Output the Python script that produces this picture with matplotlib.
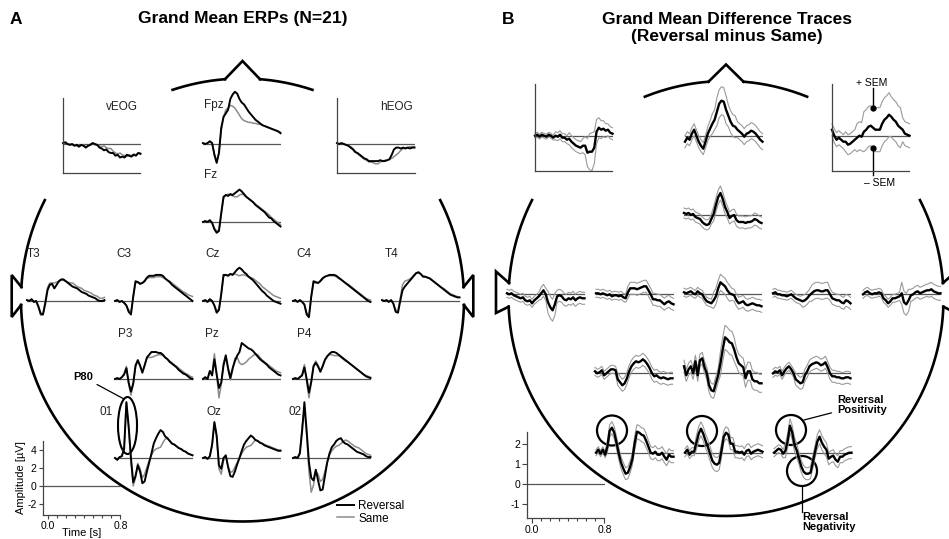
import numpy as np
import matplotlib
matplotlib.use('Agg')
import matplotlib.pyplot as plt
from matplotlib.patches import Circle, Ellipse
from matplotlib.lines import Line2D

plt.rcParams['font.family'] = ['Liberation Sans', 'DejaVu Sans']
plt.rcParams['axes.unicode_minus'] = False

W, H = 949, 539
t = np.linspace(-0.05, 0.8, 35)   # time base [s], 25 ms steps

# ---- A: grand mean ERPs [uV], Reversal (black) and Same (gray) ----
a_veog_rev = [0.1, 0.2, 0.0, -0.1, 0.0, -0.2, -0.1, -0.3, -0.1, -0.2, -0.4, -0.2, -0.1, 0.1, 0.0, -0.1, -0.4, -0.5, -0.7, -0.6, -0.9, -1.0, -1.0, -1.3, -1.2, -1.5, -1.4, -1.5, -1.2, -1.3, -1.4, -1.2, -1.3, -1.0, -1.1]
a_veog_same = [0.1, 0.1, 0.0, 0.0, -0.1, -0.1, -0.2, -0.2, -0.1, -0.1, -0.3, -0.2, 0.0, 0.1, -0.1, -0.1, -0.2, -0.3, -0.2, -0.4, -0.5, -0.5, -0.8, -1.0, -1.1, -1.0, -1.2, -1.3, -1.4, -1.2, -1.3, -1.1, -1.2, -1.0, -1.0]
a_heog_rev = [0.1, 0.0, 0.1, 0.0, -0.1, -0.2, -0.4, -0.6, -0.9, -1.0, -1.2, -1.4, -1.6, -1.7, -1.9, -1.9, -1.9, -1.9, -1.9, -1.8, -1.9, -1.9, -1.8, -1.7, -1.2, -0.6, -0.4, -0.4, -0.5, -0.4, -0.5, -0.4, -0.5, -0.4, -0.4]
a_heog_same = [0.1, 0.0, 0.1, 0.0, -0.1, -0.2, -0.3, -0.5, -0.8, -1.1, -1.3, -1.5, -1.7, -1.8, -2.0, -2.0, -2.1, -2.2, -2.2, -2.0, -1.9, -1.8, -1.8, -1.7, -1.6, -1.4, -1.2, -1.0, -0.7, -0.5, -0.4, -0.4, -0.3, -0.3, -0.3]
a_fpz_rev = [0.1, 0.0, 0.1, 0.3, 0.1, -1.2, -2.1, -1.0, 1.8, 3.0, 3.4, 3.8, 5.0, 5.5, 5.8, 5.6, 5.0, 4.6, 4.4, 4.0, 3.6, 3.3, 3.0, 2.7, 2.5, 2.3, 2.1, 2.0, 1.9, 1.8, 1.7, 1.6, 1.5, 1.4, 1.2]
a_fpz_same = [0.1, 0.0, 0.1, 0.3, 0.1, -1.1, -1.9, -1.0, 1.5, 3.0, 3.8, 4.0, 4.3, 4.2, 4.0, 3.6, 3.2, 2.8, 2.6, 2.5, 2.4, 2.4, 2.3, 2.3, 2.2, 2.2, 2.1, 2.0, 1.9, 1.8, 1.7, 1.6, 1.5, 1.4, 1.3]
a_fz_rev = [0.0, 0.1, 0.0, 0.2, -0.1, -0.8, -1.2, -1.0, 1.0, 2.8, 3.0, 2.9, 3.1, 3.0, 3.2, 3.4, 3.6, 3.4, 3.1, 2.8, 2.6, 2.4, 2.2, 1.9, 1.7, 1.5, 1.3, 1.1, 0.8, 0.5, 0.4, 0.1, -0.1, -0.3, -0.5]
a_fz_same = [0.0, 0.1, 0.0, 0.2, -0.1, -0.7, -1.0, -0.9, 0.8, 2.6, 3.0, 3.1, 3.0, 2.9, 2.8, 2.8, 3.0, 3.1, 3.0, 2.8, 2.6, 2.4, 2.2, 2.0, 1.8, 1.6, 1.4, 1.2, 1.0, 0.8, 0.5, 0.3, 0.1, -0.1, -0.3]
a_t3_rev = [0.1, 0.0, 0.2, -0.1, 0.0, -0.6, -1.4, -1.5, -0.3, 1.2, 1.8, 1.9, 1.4, 1.8, 2.2, 2.4, 2.4, 2.2, 2.0, 1.8, 1.6, 1.5, 1.4, 1.2, 1.0, 0.9, 0.8, 0.6, 0.5, 0.4, 0.3, 0.1, 0.0, 0.0, 0.1]
a_t3_same = [0.1, 0.0, 0.2, -0.1, 0.0, -0.7, -1.6, -1.5, 0.0, 1.5, 2.0, 2.0, 2.0, 2.1, 2.2, 2.3, 2.3, 2.2, 2.1, 2.0, 2.0, 1.8, 1.6, 1.5, 1.4, 1.2, 1.1, 1.0, 0.9, 0.7, 0.6, 0.5, 0.3, 0.3, 0.4]
a_c3_rev = [0.0, 0.1, -0.1, 0.0, -0.2, -0.5, -1.2, -1.5, 0.5, 2.2, 2.1, 1.9, 2.0, 2.2, 2.6, 2.8, 2.8, 2.8, 2.9, 2.9, 2.9, 2.8, 2.5, 2.3, 2.1, 1.8, 1.6, 1.4, 1.2, 1.0, 0.8, 0.6, 0.4, 0.2, 0.0]
a_c3_same = [0.0, 0.1, -0.1, 0.0, -0.2, -0.5, -1.0, -1.2, 0.5, 2.0, 2.1, 2.0, 2.0, 2.3, 2.5, 2.6, 2.6, 2.6, 2.7, 2.7, 2.7, 2.6, 2.5, 2.3, 2.2, 2.0, 1.8, 1.6, 1.4, 1.2, 1.0, 0.9, 0.7, 0.6, 0.5]
a_cz_rev = [0.0, 0.1, -0.1, 0.2, 0.0, -0.5, -1.3, -1.0, 0.8, 2.9, 2.9, 2.8, 3.0, 2.9, 3.2, 3.5, 3.7, 3.5, 3.2, 3.0, 2.7, 2.5, 2.3, 2.0, 1.7, 1.4, 1.1, 0.9, 0.6, 0.4, 0.2, 0.0, -0.1, -0.2, -0.3]
a_cz_same = [0.0, 0.1, -0.1, 0.2, 0.0, -0.5, -1.1, -0.9, 0.6, 2.7, 2.9, 2.9, 3.0, 3.0, 3.0, 2.9, 2.8, 2.9, 2.9, 2.8, 2.7, 2.6, 2.5, 2.3, 2.1, 1.9, 1.6, 1.4, 1.2, 1.0, 0.8, 0.6, 0.5, 0.4, 0.3]
a_c4_rev = [0.0, 0.1, -0.1, 0.1, -0.1, -0.4, -1.5, -1.8, 0.5, 2.2, 2.1, 2.0, 2.2, 2.5, 2.7, 2.8, 2.9, 2.9, 2.9, 2.8, 2.6, 2.4, 2.2, 2.0, 1.8, 1.6, 1.4, 1.2, 1.0, 0.8, 0.6, 0.4, 0.2, 0.0, -0.1]
a_c4_same = [0.0, 0.1, -0.1, 0.1, -0.1, -0.4, -1.3, -1.6, 0.4, 2.0, 2.0, 2.0, 2.3, 2.6, 2.7, 2.8, 2.8, 2.8, 2.8, 2.7, 2.5, 2.4, 2.2, 2.0, 1.9, 1.7, 1.5, 1.3, 1.1, 0.9, 0.7, 0.5, 0.3, 0.2, 0.1]
a_t4_rev = [0.1, 0.0, 0.1, -0.1, 0.1, -0.3, -1.2, -1.3, 0.0, 1.2, 1.6, 1.9, 2.2, 2.5, 2.8, 3.1, 3.2, 3.0, 2.7, 2.7, 2.6, 2.5, 2.3, 2.1, 1.9, 1.7, 1.5, 1.3, 1.1, 0.9, 0.7, 0.6, 0.5, 0.4, 0.4]
a_t4_same = [0.1, 0.0, 0.1, -0.1, 0.1, -0.3, -1.0, -1.1, 0.3, 1.8, 2.2, 2.3, 2.4, 2.6, 2.9, 3.1, 3.1, 3.0, 2.8, 2.7, 2.6, 2.5, 2.3, 2.1, 1.9, 1.7, 1.5, 1.4, 1.2, 1.0, 0.8, 0.7, 0.6, 0.5, 0.4]
a_p3_rev = [0.0, 0.1, 0.0, 0.2, 0.5, 1.2, -0.4, -1.4, -0.5, 1.5, 2.1, 1.5, 0.7, 1.5, 2.4, 2.7, 3.0, 3.0, 3.0, 2.9, 2.9, 2.7, 2.4, 2.2, 1.9, 1.7, 1.5, 1.3, 1.0, 0.8, 0.6, 0.5, 0.3, 0.1, 0.0]
a_p3_same = [0.0, 0.1, 0.0, 0.2, 0.6, 1.4, -0.6, -1.8, -0.6, 1.3, 2.0, 1.4, 0.8, 1.6, 2.3, 2.4, 2.4, 2.5, 2.6, 2.7, 2.7, 2.6, 2.4, 2.2, 2.0, 1.8, 1.6, 1.4, 1.2, 1.0, 0.8, 0.6, 0.5, 0.3, 0.2]
a_pz_rev = [0.0, 0.2, 0.0, 0.9, 0.4, 2.2, 0.5, -1.0, -0.4, 1.5, 2.6, 1.2, 0.1, 1.2, 2.0, 2.6, 3.0, 4.0, 3.8, 3.6, 3.4, 3.3, 3.1, 2.8, 2.5, 2.2, 2.0, 1.8, 1.6, 1.3, 1.1, 0.9, 0.7, 0.5, 0.4]
a_pz_same = [0.0, 0.2, 0.0, 0.8, 0.6, 2.8, 0.5, -2.1, -0.6, 1.8, 2.7, 1.0, -0.1, 1.0, 2.3, 2.4, 1.8, 1.6, 1.7, 1.9, 2.2, 2.4, 2.6, 2.8, 2.7, 2.4, 2.1, 1.9, 1.7, 1.5, 1.3, 1.1, 0.9, 0.8, 0.7]
a_p4_rev = [0.0, 0.1, 0.0, 0.2, 0.4, 1.3, 0.0, -1.5, -0.3, 1.4, 1.8, 1.4, 0.8, 1.4, 2.1, 2.5, 2.8, 3.0, 3.0, 2.9, 2.7, 2.5, 2.3, 2.1, 1.9, 1.7, 1.5, 1.3, 1.1, 0.9, 0.7, 0.5, 0.3, 0.2, 0.1]
a_p4_same = [0.0, 0.1, 0.0, 0.2, 0.5, 1.6, -0.3, -2.1, -0.5, 1.5, 2.0, 1.5, 0.9, 1.5, 2.2, 2.6, 2.7, 2.7, 2.6, 2.6, 2.6, 2.4, 2.2, 2.0, 1.9, 1.7, 1.5, 1.3, 1.1, 0.9, 0.7, 0.5, 0.4, 0.3, 0.2]
a_o1_rev = [0.0, -0.2, 0.1, 0.2, 1.0, 6.2, 3.5, 0.0, -2.7, -2.0, -0.8, -1.5, -2.8, -2.6, -1.5, -0.5, 0.5, 1.6, 2.2, 2.7, 3.1, 2.9, 2.4, 2.2, 1.9, 1.6, 1.5, 1.3, 1.1, 1.0, 0.8, 0.7, 0.5, 0.4, 0.3]
a_o1_same = [0.0, -0.2, 0.1, 0.2, 1.2, 6.2, 3.2, -0.5, -3.1, -2.2, -0.6, -1.2, -2.2, -1.8, -1.0, -0.3, 0.3, 0.8, 1.0, 1.1, 1.2, 1.7, 2.1, 2.2, 1.9, 1.6, 1.5, 1.3, 1.1, 1.0, 0.8, 0.7, 0.5, 0.4, 0.3]
a_oz_rev = [0.0, 0.1, -0.1, 0.2, 1.5, 4.0, 2.5, -0.8, -1.2, 0.0, 0.3, -1.0, -2.0, -2.1, -1.5, -0.7, 0.0, 0.8, 1.5, 1.9, 2.2, 2.5, 2.3, 2.0, 1.9, 1.7, 1.6, 1.4, 1.3, 1.2, 1.1, 1.0, 0.9, 0.8, 0.8]
a_oz_same = [0.0, 0.1, -0.1, 0.2, 1.4, 3.9, 2.2, -1.2, -1.8, -0.3, 0.2, -0.9, -1.6, -1.5, -1.0, -0.5, 0.0, 0.5, 0.9, 1.2, 1.3, 1.4, 1.7, 2.0, 1.9, 1.7, 1.6, 1.5, 1.4, 1.3, 1.2, 1.1, 1.0, 0.9, 0.9]
a_o2_rev = [0.0, 0.1, 0.0, 0.5, 3.0, 6.2, 3.0, -0.5, -2.2, -2.5, -1.3, -2.5, -3.6, -3.5, -2.0, -0.5, 0.5, 1.2, 1.5, 1.9, 2.1, 2.2, 1.8, 1.6, 1.5, 1.3, 1.1, 0.9, 0.7, 0.6, 0.5, 0.4, 0.2, 0.1, 0.1]
a_o2_same = [0.0, 0.1, 0.0, 0.6, 3.5, 5.5, 2.5, -1.5, -3.8, -3.0, -1.5, -1.8, -2.6, -2.4, -1.5, -0.5, 0.3, 0.8, 1.1, 1.3, 1.4, 1.6, 1.8, 2.0, 1.9, 1.7, 1.5, 1.3, 1.2, 1.1, 0.9, 0.7, 0.5, 0.4, 0.3]

# ---- B: grand mean difference (Reversal minus Same) and SEM [uV] ----
b_veog_mean = [0.0, 0.05, -0.05, 0.05, 0.0, -0.05, 0.05, 0.0, -0.1, 0.0, -0.05, 0.05, -0.1, -0.1, -0.2, -0.15, -0.3, -0.4, -0.5, -0.55, -0.6, -0.5, -0.5, -0.85, -0.8, -0.8, -0.6, 0.2, 0.4, 0.3, 0.35, 0.25, 0.3, 0.15, 0.1]
b_veog_sem = [0.12, 0.12, 0.12, 0.12, 0.12, 0.12, 0.12, 0.12, 0.12, 0.2, 0.2, 0.2, 0.2, 0.2, 0.2, 0.3, 0.3, 0.3, 0.3, 0.3, 0.3, 0.35, 0.45, 0.7, 0.9, 0.95, 0.8, 0.6, 0.5, 0.45, 0.4, 0.35, 0.3, 0.3, 0.3]
b_fpz_mean = [-0.3, -0.1, -0.2, 0.1, 0.3, 0.0, -0.3, -0.5, -0.65, -0.3, 0.1, 0.35, 0.6, 0.8, 1.2, 1.6, 1.75, 1.7, 1.3, 1.0, 0.7, 0.5, 0.45, 0.3, 0.2, 0.1, -0.05, 0.1, 0.15, 0.25, 0.2, 0.1, -0.05, -0.2, -0.3]
b_fpz_sem = [0.3, 0.3, 0.3, 0.3, 0.3, 0.3, 0.3, 0.3, 0.3, 0.3, 0.35, 0.4, 0.5, 0.5, 0.7, 0.7, 0.7, 0.7, 0.7, 0.55, 0.55, 0.55, 0.55, 0.4, 0.4, 0.4, 0.4, 0.4, 0.4, 0.4, 0.4, 0.4, 0.4, 0.4, 0.4]
b_heog_mean = [0.3, 0.0, -0.2, -0.1, -0.2, -0.3, -0.3, -0.45, -0.4, -0.3, -0.2, -0.1, 0.0, -0.05, 0.2, 0.3, 0.45, 0.5, 0.4, 0.3, 0.3, 0.3, 0.6, 0.8, 0.9, 1.05, 0.95, 0.8, 0.7, 0.5, 0.4, 0.3, 0.1, 0.05, 0.0]
b_heog_sem = [0.3, 0.35, 0.35, 0.35, 0.35, 0.35, 0.5, 0.5, 0.5, 0.5, 0.5, 0.7, 0.7, 0.7, 1.0, 1.0, 1.0, 1.0, 1.0, 1.1, 1.1, 1.1, 1.1, 1.1, 1.1, 1.1, 1.0, 1.0, 1.0, 1.0, 1.0, 0.6, 0.6, 0.6, 0.6]
b_fz_mean = [0.1, 0.05, 0.1, 0.0, 0.05, -0.1, -0.15, -0.2, -0.35, -0.45, -0.5, -0.45, -0.2, 0.05, 0.5, 0.9, 1.1, 0.8, 0.4, 0.15, -0.15, -0.05, 0.0, -0.25, -0.35, -0.35, -0.35, -0.4, -0.35, -0.35, -0.3, -0.2, -0.25, -0.35, -0.4]
b_fz_sem = [0.25, 0.25, 0.25, 0.25, 0.25, 0.25, 0.25, 0.25, 0.25, 0.25, 0.25, 0.25, 0.25, 0.35, 0.35, 0.35, 0.35, 0.35, 0.35, 0.3, 0.3, 0.3, 0.3, 0.3, 0.3, 0.3, 0.3, 0.3, 0.3, 0.3, 0.3, 0.3, 0.3, 0.3, 0.3]
b_t3_mean = [0.05, 0.0, 0.05, -0.05, -0.1, -0.15, -0.2, -0.15, -0.3, -0.35, -0.3, -0.45, -0.3, -0.2, -0.1, 0.05, 0.2, 0.0, -0.4, -0.65, -0.8, -0.5, -0.1, -0.05, -0.1, -0.25, -0.3, -0.2, -0.25, -0.15, -0.3, -0.2, -0.15, -0.2, -0.2]
b_t3_sem = [0.2, 0.2, 0.2, 0.2, 0.2, 0.2, 0.2, 0.2, 0.2, 0.2, 0.2, 0.2, 0.2, 0.2, 0.2, 0.3, 0.3, 0.3, 0.55, 0.55, 0.55, 0.55, 0.3, 0.3, 0.3, 0.3, 0.3, 0.3, 0.3, 0.3, 0.3, 0.3, 0.3, 0.3, 0.3]
b_c3_mean = [0.05, 0.05, 0.0, 0.05, 0.0, -0.05, 0.0, -0.1, -0.05, -0.05, -0.1, -0.05, -0.15, -0.2, 0.1, 0.3, 0.3, 0.3, 0.25, 0.3, 0.35, 0.4, 0.4, 0.2, 0.0, -0.25, -0.25, -0.3, -0.3, -0.4, -0.5, -0.4, -0.35, -0.45, -0.5]
b_c3_sem = [0.2, 0.2, 0.2, 0.2, 0.2, 0.2, 0.2, 0.2, 0.2, 0.2, 0.2, 0.2, 0.2, 0.2, 0.3, 0.3, 0.3, 0.3, 0.3, 0.3, 0.3, 0.3, 0.3, 0.3, 0.3, 0.3, 0.3, 0.3, 0.3, 0.3, 0.3, 0.3, 0.3, 0.3, 0.3]
b_cz_mean = [0.1, 0.05, 0.1, 0.15, 0.05, 0.0, 0.15, 0.05, 0.0, -0.2, -0.35, -0.4, -0.45, -0.3, -0.1, 0.3, 0.6, 0.5, 0.4, 0.2, 0.05, 0.0, -0.05, -0.3, -0.45, -0.4, -0.35, -0.5, -0.55, -0.5, -0.45, -0.5, -0.55, -0.55, -0.6]
b_cz_sem = [0.2, 0.2, 0.2, 0.2, 0.2, 0.2, 0.2, 0.2, 0.2, 0.2, 0.2, 0.2, 0.2, 0.4, 0.4, 0.4, 0.4, 0.4, 0.4, 0.4, 0.4, 0.3, 0.3, 0.3, 0.3, 0.3, 0.3, 0.3, 0.3, 0.3, 0.3, 0.3, 0.3, 0.3, 0.3]
b_c4_mean = [0.05, 0.1, 0.0, 0.0, -0.05, -0.05, -0.1, -0.05, 0.0, -0.1, -0.2, -0.25, -0.3, -0.35, -0.3, -0.2, -0.05, 0.05, 0.15, 0.2, 0.2, 0.15, 0.15, 0.2, 0.2, 0.0, -0.2, -0.25, -0.3, -0.3, -0.4, -0.45, -0.3, -0.35, -0.45]
b_c4_sem = [0.2, 0.2, 0.2, 0.2, 0.2, 0.2, 0.2, 0.2, 0.2, 0.2, 0.2, 0.2, 0.2, 0.3, 0.3, 0.3, 0.3, 0.4, 0.4, 0.4, 0.4, 0.4, 0.4, 0.4, 0.4, 0.3, 0.3, 0.3, 0.3, 0.3, 0.3, 0.3, 0.3, 0.3, 0.3]
b_t4_mean = [0.0, 0.1, 0.15, 0.05, 0.0, 0.05, 0.05, 0.1, 0.05, -0.2, -0.3, -0.45, -0.35, -0.2, -0.2, -0.15, -0.1, 0.05, -0.4, -0.5, -0.3, -0.05, 0.0, 0.1, 0.15, 0.05, 0.1, 0.15, 0.2, 0.2, 0.25, 0.15, 0.1, 0.05, 0.05]
b_t4_sem = [0.2, 0.2, 0.2, 0.2, 0.2, 0.2, 0.2, 0.2, 0.2, 0.2, 0.2, 0.2, 0.2, 0.2, 0.2, 0.2, 0.2, 0.55, 0.55, 0.55, 0.55, 0.3, 0.3, 0.3, 0.3, 0.3, 0.3, 0.3, 0.3, 0.35, 0.35, 0.35, 0.35, 0.35, 0.35]
b_p3_mean = [0.1, 0.0, 0.05, 0.15, -0.1, 0.0, 0.1, 0.2, 0.2, 0.15, -0.3, -0.45, -0.6, -0.5, -0.25, 0.1, 0.35, 0.5, 0.6, 0.55, 0.6, 0.7, 0.6, 0.45, 0.25, 0.0, -0.15, -0.1, -0.2, -0.25, -0.2, -0.25, -0.3, -0.25, -0.25]
b_p3_sem = [0.2, 0.2, 0.2, 0.2, 0.2, 0.2, 0.2, 0.2, 0.2, 0.2, 0.3, 0.3, 0.3, 0.3, 0.3, 0.3, 0.3, 0.3, 0.3, 0.3, 0.3, 0.3, 0.3, 0.3, 0.3, 0.3, 0.3, 0.3, 0.3, 0.3, 0.3, 0.3, 0.3, 0.3, 0.3]
b_pz_mean = [0.35, -0.1, 0.2, 0.35, 0.0, 0.6, -0.1, 0.65, 0.75, 0.3, 0.0, -0.6, -0.85, -0.9, -0.5, -0.1, 0.5, 1.2, 1.8, 1.7, 1.55, 1.5, 1.2, 0.8, 0.5, 0.4, 0.3, -0.25, 0.1, 0.1, -0.3, -0.4, -0.4, -0.5, -0.5]
b_pz_sem = [0.3, 0.3, 0.3, 0.3, 0.3, 0.3, 0.3, 0.3, 0.3, 0.3, 0.3, 0.35, 0.35, 0.35, 0.35, 0.35, 0.6, 0.6, 0.6, 0.6, 0.6, 0.6, 0.6, 0.45, 0.45, 0.45, 0.45, 0.45, 0.45, 0.45, 0.45, 0.45, 0.45, 0.45, 0.45]
b_p4_mean = [0.0, 0.1, 0.05, 0.15, -0.1, 0.1, 0.25, 0.35, 0.2, 0.0, -0.3, -0.4, -0.5, -0.45, -0.1, 0.1, 0.35, 0.45, 0.5, 0.55, 0.5, 0.4, 0.45, 0.55, 0.3, 0.0, -0.15, -0.15, -0.2, -0.2, -0.25, -0.25, -0.2, -0.2, -0.25]
b_p4_sem = [0.2, 0.2, 0.2, 0.2, 0.2, 0.2, 0.2, 0.2, 0.2, 0.2, 0.3, 0.3, 0.3, 0.3, 0.3, 0.3, 0.3, 0.3, 0.3, 0.3, 0.3, 0.3, 0.3, 0.3, 0.3, 0.3, 0.3, 0.3, 0.3, 0.3, 0.3, 0.3, 0.3, 0.3, 0.3]
b_o1_mean = [0.0, 0.15, -0.05, 0.15, -0.1, 0.3, 1.1, 1.25, 1.0, 0.5, -0.05, -0.5, -0.8, -1.05, -1.0, -0.7, -0.3, 0.5, 1.05, 1.0, 0.9, 0.85, 0.6, 0.3, 0.0, -0.05, 0.05, -0.1, -0.1, 0.0, -0.2, -0.35, -0.1, -0.2, -0.2]
b_o1_sem = [0.15, 0.15, 0.15, 0.15, 0.15, 0.3, 0.3, 0.3, 0.3, 0.3, 0.3, 0.3, 0.3, 0.3, 0.3, 0.3, 0.3, 0.35, 0.35, 0.35, 0.35, 0.35, 0.35, 0.3, 0.3, 0.3, 0.3, 0.3, 0.3, 0.3, 0.3, 0.3, 0.3, 0.3, 0.3]
b_oz_mean = [0.0, 0.15, -0.1, 0.05, 0.05, 0.5, 0.95, 1.2, 0.95, 0.6, 0.3, -0.05, -0.4, -0.55, -0.6, -0.5, 0.1, 0.8, 1.0, 0.9, 0.45, 0.45, 0.05, 0.05, 0.0, 0.05, -0.1, 0.1, 0.15, -0.05, 0.05, 0.1, 0.15, 0.1, 0.05]
b_oz_sem = [0.2, 0.2, 0.2, 0.2, 0.2, 0.35, 0.35, 0.35, 0.35, 0.35, 0.35, 0.35, 0.35, 0.35, 0.35, 0.35, 0.35, 0.3, 0.3, 0.3, 0.3, 0.3, 0.3, 0.3, 0.3, 0.3, 0.3, 0.3, 0.3, 0.3, 0.3, 0.3, 0.3, 0.3, 0.3]
b_o2_mean = [0.0, 0.1, 0.2, 0.15, -0.05, 0.1, 0.6, 1.35, 1.0, 0.4, 0.1, -0.3, -0.7, -0.95, -1.05, -1.05, -1.0, -0.5, 0.05, 0.55, 0.8, 0.5, 0.3, 0.15, -0.3, -0.2, -0.15, -0.35, -0.45, -0.2, -0.2, -0.1, -0.05, 0.0, 0.0]
b_o2_sem = [0.2, 0.2, 0.2, 0.2, 0.2, 0.35, 0.35, 0.35, 0.35, 0.35, 0.35, 0.3, 0.3, 0.3, 0.3, 0.3, 0.3, 0.3, 0.3, 0.35, 0.35, 0.35, 0.35, 0.35, 0.3, 0.3, 0.3, 0.3, 0.3, 0.3, 0.3, 0.3, 0.3, 0.3, 0.3]

# ---- layout: (left pixel of time axis, pixel row of 0 uV) ----
a_pos = {'veog': (63, 144), 'fpz': (203, 144), 'heog': (337, 144), 'fz': (203, 222),
         't3': (27, 301), 'c3': (115, 301), 'cz': (203, 301), 'c4': (293, 301), 't4': (382, 301),
         'p3': (115, 379), 'pz': (203, 379), 'p4': (293, 379),
         'o1': (115, 458), 'oz': (203, 458), 'o2': (293, 458)}
b_pos = {'veog': (535, 135.7), 'fpz': (685, 135.7), 'heog': (832, 135.7), 'fz': (684, 215),
         't3': (507, 294.3), 'c3': (596, 294.3), 'cz': (684, 294.3), 'c4': (773, 294.3), 't4': (863, 294.3),
         'p3': (595, 373.3), 'pz': (684, 373.3), 'p4': (773, 373.3),
         'o1': (596, 452.7), 'oz': (685, 452.7), 'o2': (774, 452.7)}
a_data = {'veog': (a_veog_rev, a_veog_same), 'heog': (a_heog_rev, a_heog_same),
          'fpz': (a_fpz_rev, a_fpz_same), 'fz': (a_fz_rev, a_fz_same),
          't3': (a_t3_rev, a_t3_same), 'c3': (a_c3_rev, a_c3_same), 'cz': (a_cz_rev, a_cz_same),
          'c4': (a_c4_rev, a_c4_same), 't4': (a_t4_rev, a_t4_same),
          'p3': (a_p3_rev, a_p3_same), 'pz': (a_pz_rev, a_pz_same), 'p4': (a_p4_rev, a_p4_same),
          'o1': (a_o1_rev, a_o1_same), 'oz': (a_oz_rev, a_oz_same), 'o2': (a_o2_rev, a_o2_same)}
b_data = {'veog': (b_veog_mean, b_veog_sem), 'heog': (b_heog_mean, b_heog_sem),
          'fpz': (b_fpz_mean, b_fpz_sem), 'fz': (b_fz_mean, b_fz_sem),
          't3': (b_t3_mean, b_t3_sem), 'c3': (b_c3_mean, b_c3_sem), 'cz': (b_cz_mean, b_cz_sem),
          'c4': (b_c4_mean, b_c4_sem), 't4': (b_t4_mean, b_t4_sem),
          'p3': (b_p3_mean, b_p3_sem), 'pz': (b_pz_mean, b_pz_sem), 'p4': (b_p4_mean, b_p4_sem),
          'o1': (b_o1_mean, b_o1_sem), 'oz': (b_oz_mean, b_oz_sem), 'o2': (b_o2_mean, b_o2_sem)}
a_labels = {'veog': ('vEOG', 122, 107, 'center'), 'heog': ('hEOG', 397, 107, 'center'),
            'fpz': ('Fpz', 204, 105, 'left'), 'fz': ('Fz', 204, 175, 'left'),
            't3': ('T3', 27, 254, 'left'), 'c3': ('C3', 116, 254, 'left'), 'cz': ('Cz', 205, 254, 'left'),
            'c4': ('C4', 296, 254, 'left'), 't4': ('T4', 385, 254, 'left'),
            'p3': ('P3', 118, 334, 'left'), 'pz': ('Pz', 205, 334, 'left'), 'p4': ('P4', 297, 334, 'left'),
            'o1': ('01', 113, 412, 'right'), 'oz': ('Oz', 207, 412, 'left'), 'o2': ('02', 289, 412, 'left')}

TW = 77.5          # pixel width of -0.05 .. 0.8 s
GRAY = '#8c8c8c'

fig = plt.figure(figsize=(W / 100, H / 100), dpi=100)
bg = fig.add_axes([0, 0, 1, 1])
bg.set_xlim(0, W)
bg.set_ylim(H, 0)
bg.axis('off')


def place(x0, base, ylo, yhi, sy):
    top = base - yhi * sy
    h = (yhi - ylo) * sy
    ax = fig.add_axes([x0 / W, 1 - (top + h) / H, TW / W, h / H])
    ax.set_xlim(-0.05, 0.8)
    ax.set_ylim(ylo, yhi)
    ax.patch.set_alpha(0)
    for s in ax.spines.values():
        s.set_visible(False)
    ax.set_xticks([])
    ax.set_yticks([])
    return ax


def box(ax):
    for side in ('left', 'bottom'):
        ax.spines[side].set_visible(True)
        ax.spines[side].set_color('#444444')
        ax.spines[side].set_linewidth(0.9)


def head(cx, cy, r, top_ang, side_ang, nose_w, nose_h, ear_out, ear_ends, ear_joins):
    lw = 1.9
    nose_ang = np.degrees(np.arcsin(nose_w / r))
    j_up = np.degrees(np.arcsin(-ear_joins[0] / r))
    j_dn = np.degrees(np.arcsin(ear_joins[1] / r))
    pieces = [(90 - top_ang, 90 - nose_ang), (90 + nose_ang, 90 + top_ang),
              (180 - side_ang, 180 - j_up), (180 + j_dn, 360 - j_dn), (j_up, side_ang)]
    for a0, a1 in pieces:
        th = np.radians(np.linspace(a0, a1, 300))
        bg.plot(cx + r * np.cos(th), cy - r * np.sin(th), color='k', lw=lw)
    yb = cy - np.sqrt(r ** 2 - nose_w ** 2)
    bg.plot([cx - nose_w, cx, cx + nose_w], [yb, cy - r - nose_h, yb], color='k', lw=lw,
            solid_joinstyle='miter')
    for sgn in (-1, 1):
        xo = cx + sgn * (r + ear_out)
        xj0 = cx + sgn * np.sqrt(r ** 2 - ear_joins[0] ** 2)
        xj1 = cx + sgn * np.sqrt(r ** 2 - ear_joins[1] ** 2)
        bg.plot([xj0, xo, xo, xj1], [cy + ear_joins[0], cy + ear_ends[0], cy + ear_ends[1], cy + ear_joins[1]],
                color='k', lw=lw, solid_joinstyle='miter')


head(242.5, 300, 221.5, 18.4, 26.8, 17.5, 17.5, 9.3, (-25, 17), (-13, 5))
head(726, 298.5, 217.5, 21.9, 26.9, 17.5, 16.5, 12.5, (-27, 14.5), (-15.5, 8.2))

# ---- panel A ----
SA = 9.0
for key, (x0, base) in a_pos.items():
    rev, same = a_data[key]
    if key in ('veog', 'heog'):
        ax = place(x0, base, -3.2, 5.1, SA)
        box(ax)
    else:
        ax = place(x0, base, -4.5, 7.0, SA)
    ax.axhline(0, color='#555555', lw=0.9)
    ax.plot(t, same, color=GRAY, lw=1.1, clip_on=False)
    ax.plot(t, rev, color='k', lw=1.4, clip_on=False)
    name, lx, ly, ha = a_labels[key]
    bg.text(lx, ly, name, fontsize=8.5, ha=ha, va='center', color='#222222')

# amplitude / time scale
sa = place(43, 486, -3.2, 5.0, SA)
box(sa)
sa.axhline(0, color='#555555', lw=0.9)
sa.set_yticks([-2, 0, 2, 4])
sa.set_xticks([0.0, 0.8])
sa.set_xticklabels(['0.0', '0.8'])
sa.set_xticks(np.arange(0.1, 0.8, 0.1), minor=True)
sa.tick_params(labelsize=7.5, length=3, width=0.8, pad=1.5, color='#444444')
sa.tick_params(which='minor', length=2, width=0.8, color='#444444')
sa.set_ylabel('Amplitude [\u00b5V]', fontsize=8, labelpad=1)
sa.set_xlabel('Time [s]', fontsize=8, labelpad=-2)

leg_handles = [Line2D([], [], color='k', lw=1.4), Line2D([], [], color=GRAY, lw=1.1)]
fig.legend(leg_handles, ['Reversal', 'Same'], loc='upper left', bbox_to_anchor=(337 / W, 1 - 500 / H),
           frameon=False, fontsize=8.5, handlelength=1.4, handletextpad=0.4, labelspacing=0.05,
           borderpad=0, borderaxespad=0)

# P80 marker
bg.add_patch(Ellipse((127.5, 425.5), 19, 57, fill=False, color='k', lw=1.5))
bg.annotate('P80', xy=(124, 399), xytext=(93, 377), fontsize=8, fontweight='bold', ha='right',
            va='center', arrowprops=dict(arrowstyle='-', color='k', lw=0.9, shrinkA=1, shrinkB=0))

# ---- panel B ----
SB = 20.0
for key, (x0, base) in b_pos.items():
    mean, sem = np.array(b_data[key][0]), np.array(b_data[key][1])
    ax = place(x0, base, -1.75, 2.6, SB)
    if key in ('veog', 'heog'):
        box(ax)
    ax.axhline(0, color='#555555', lw=0.9)
    ax.plot(t, mean + sem, color='#9a9a9a', lw=0.8, clip_on=False)
    ax.plot(t, mean - sem, color='#9a9a9a', lw=0.8, clip_on=False)
    ax.plot(t, mean, color='k', lw=1.7, clip_on=False)
    if key == 'heog':
        i = 18
        up, lo = mean[i] + sem[i], mean[i] - sem[i]
        ax.plot([t[i]], [up], 'o', color='k', ms=3.5, clip_on=False)
        ax.plot([t[i]], [lo], 'o', color='k', ms=3.5, clip_on=False)
        ax.plot([t[i], t[i]], [up, 2.38], color='k', lw=1.0, clip_on=False)
        ax.plot([t[i], t[i]], [lo, -1.97], color='k', lw=1.0, clip_on=False)
        ax.text(t[i] - 0.02, 2.62, '+ SEM', fontsize=7.5, ha='center', va='center')
        ax.text(t[i] + 0.07, -2.38, '\u2013 SEM', fontsize=7.5, ha='center', va='center')

sb = place(527, 484, -1.7, 2.6, SB)
box(sb)
sb.axhline(0, color='#555555', lw=0.9)
sb.set_yticks([-1, 0, 1, 2])
sb.set_xticks([0.0, 0.8])
sb.set_xticklabels(['0.0', '0.8'])
sb.set_xticks(np.arange(0.1, 0.8, 0.1), minor=True)
sb.tick_params(labelsize=7.5, length=3.5, width=0.8, pad=1.5, color='#444444')
sb.tick_params(which='minor', length=2, width=0.8, color='#444444')

# reversal positivity / negativity markers
for cx, cy in [(612, 430.5), (702, 431), (791, 430)]:
    bg.add_patch(Circle((cx, cy), 15, fill=False, color='k', lw=1.6))
bg.add_patch(Circle((802, 471), 15, fill=False, color='k', lw=1.6))
bg.annotate('Reversal\nPositivity', xy=(804, 420), xytext=(837, 405), fontsize=8, fontweight='bold',
            ha='left', va='center', linespacing=0.95,
            arrowprops=dict(arrowstyle='-', color='k', lw=0.9, shrinkA=2, shrinkB=0))
bg.plot([802, 802], [486, 512], color='k', lw=0.9)
bg.text(802, 522, 'Reversal\nNegativity', fontsize=8, fontweight='bold', ha='left', va='center',
        linespacing=0.95)

# ---- titles ----
bg.text(10, 19, 'A', fontsize=12.5, fontweight='bold', ha='left', va='center')
bg.text(242.5, 19, 'Grand Mean ERPs (N=21)', fontsize=12.5, fontweight='bold', ha='center', va='center')
bg.text(502, 19, 'B', fontsize=12.5, fontweight='bold', ha='left', va='center')
bg.text(727, 28, 'Grand Mean Difference Traces\n(Reversal minus Same)', fontsize=12.5,
        fontweight='bold', ha='center', va='center', linespacing=1.2)

fig.savefig('out.png', dpi=100)
